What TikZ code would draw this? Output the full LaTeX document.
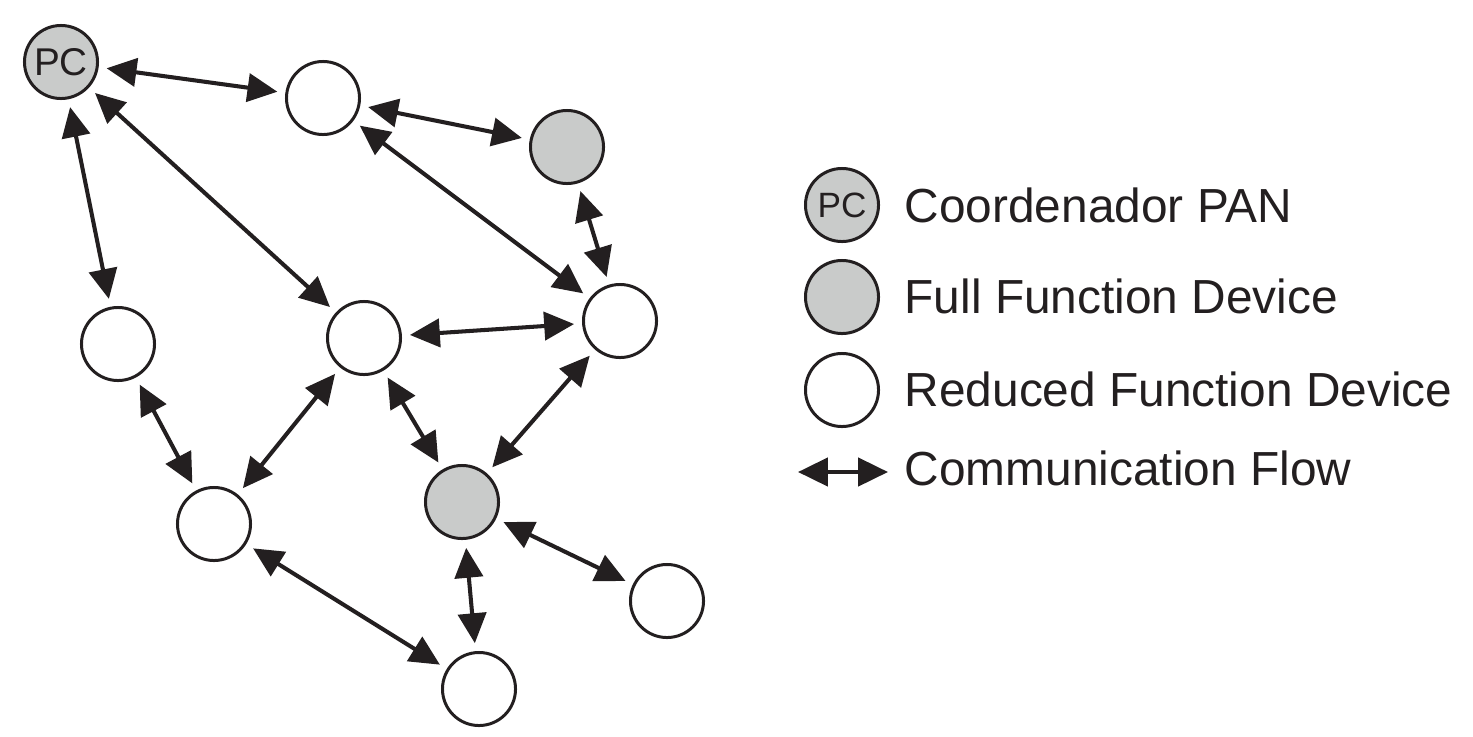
\documentclass[tikz,border=0pt]{standalone}
\usepackage{fontspec}
\setmainfont{Liberation Sans}
\usetikzlibrary{arrows.meta}
\definecolor{ink}{RGB}{35,31,32}
\definecolor{devgray}{RGB}{201,203,202}
\tikzset{
  dev/.style={circle, draw=ink, line width=0.85pt, minimum size=0.73cm, inner sep=0pt, text=ink},
  rfd/.style={dev, fill=white},
  ffd/.style={dev, fill=devgray},
  flow/.style={draw=ink, line width=1.15pt, {Triangle[length=8.5pt,width=8pt]}-{Triangle[length=8.5pt,width=8pt]}, shorten >=0.08cm, shorten <=0.08cm},
  legtext/.style={anchor=base west, inner sep=0pt, text=ink, font=\fontsize{13.6pt}{15pt}\selectfont}
}
\begin{document}
\begin{tikzpicture}[x=0.01cm,y=-0.01cm]
\useasboundingbox (0,0) rectangle (1473,736);
% devices
\node[ffd, font=\fontsize{11pt}{12pt}\selectfont] (pc) at (61,62) {PC};
\node[rfd] (a) at (323,98) {};
\node[ffd] (b) at (567,147) {};
\node[rfd] (c) at (118,344) {};
\node[rfd] (d) at (364,338) {};
\node[rfd] (e) at (620,321) {};
\node[rfd] (f) at (214,524) {};
\node[ffd] (g) at (462,502) {};
\node[rfd] (h) at (667,601) {};
\node[rfd] (i) at (479,689) {};
% links
\draw[flow] (pc) -- (a);
\draw[flow] (a) -- (b);
\draw[flow] (pc) -- (c);
\draw[flow] (pc) -- (d);
\draw[flow] (a) -- (e);
\draw[flow] (b) -- (e);
\draw[flow] (d) -- (e);
\draw[flow] (c) -- (f);
\draw[flow] (f) -- (d);
\draw[flow] (d) -- (g);
\draw[flow] (e) -- (g);
\draw[flow] (g) -- (h);
\draw[flow] (g) -- (i);
\draw[flow] (f) -- (i);
% legend
\node[ffd, font=\fontsize{10pt}{11pt}\selectfont] (lpc) at (842,205) {PC};
\node[ffd] (lffd) at (842,297) {};
\node[rfd] (lrfd) at (842,390) {};
\coordinate (la) at (798,472);
\coordinate (lb) at (888,472);
\draw[flow, shorten >=0pt, shorten <=0pt] (la) -- (lb);
\node[legtext] (t1) at (904,222) {Coordenador PAN};
\node[legtext] (t2) at (904,313) {Full Function Device};
\node[legtext] (t3) at (904,406) {Reduced Function Device};
\node[legtext] (t4) at (904,485) {Communication Flow};
\end{tikzpicture}
\end{document}
